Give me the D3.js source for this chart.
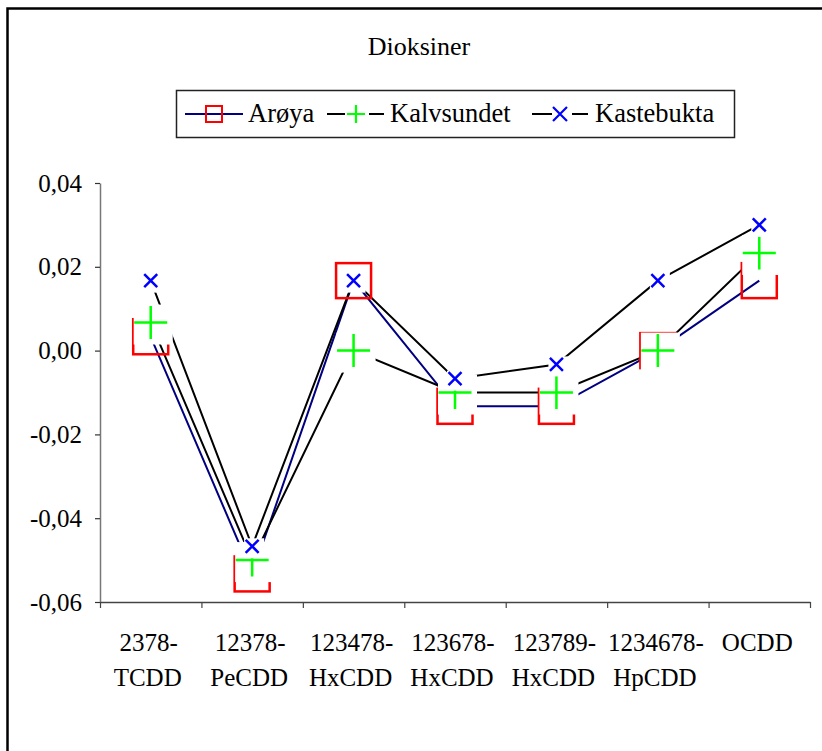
<!DOCTYPE html>
<html>
<head>
<meta charset="utf-8">
<script src="https://cdn.jsdelivr.net/npm/d3@7"></script>
<style>
  body { margin: 0; background: #fff; }
  svg { display: block; }
</style>
</head>
<body>
<div id="chart"></div>
<script>
// data
const categories = ["2378-TCDD", "12378-PeCDD", "123478-HxCDD", "123678-HxCDD", "123789-HxCDD", "1234678-HpCDD", "OCDD"];
const labelTop = ["2378-", "12378-", "123478-", "123678-", "123789-", "1234678-", "OCDD"];
const labelBottom = ["TCDD", "PeCDD", "HxCDD", "HxCDD", "HxCDD", "HpCDD", ""];
const aroya = [0.0033, -0.0533, 0.0167, -0.0133, -0.0133, 0.0, 0.0167];
const kalvsundet = [0.0067, -0.05, 0.0, -0.01, -0.01, 0.0, 0.0233];
const kastebukta = [0.0167, -0.0467, 0.0167, -0.0067, -0.0033, 0.0167, 0.03];
const seriesNames = ["Arøya", "Kalvsundet", "Kastebukta"];
const yTicks = [-0.06, -0.04, -0.02, 0, 0.02, 0.04];

function createLineChart() {
    let w = 822;
    let h = 751;
    let plot = {left: 100, right: 810, top: 183, bottom: 602};
    const font = "'Liberation Serif', 'Times New Roman', serif";

    const svg = d3.select("#chart")
                .append("svg")
                .attr("width", w)
                .attr("height", h);

    svg.append("rect")
        .attr("width", w)
        .attr("height", h)
        .attr("fill", "white");

    // outer frame (runs off the right and bottom edge)
    svg.append("rect")
        .attr("x", 7.5)
        .attr("y", 8.5)
        .attr("width", w + 20)
        .attr("height", h + 20)
        .attr("fill", "none")
        .attr("stroke", "black")
        .attr("stroke-width", 2.5);

    let xBand = d3.scaleBand()
                    .domain(categories)
                    .range([plot.left, plot.right]);
    let xEdge = d3.scaleLinear()
                    .domain([0, categories.length])
                    .range([plot.left, plot.right]);
    let yScale = d3.scaleLinear()
                    .domain([-0.06, 0.04])
                    .range([plot.bottom, plot.top]);
    let cx = (i) => xBand(categories[i]) + xBand.bandwidth() / 2;

    const locale = d3.formatLocale({decimal: ",", thousands: ".", grouping: [3], currency: ["", ""], minus: "-"});
    const fmt = locale.format(".2f");

    // y axis
    const yAxis = svg.append("g")
        .attr("transform", `translate(${plot.left},0)`)
        .call(d3.axisLeft(yScale).tickValues(yTicks).tickFormat(fmt).tickSize(5).tickSizeOuter(0).tickPadding(13));
    yAxis.select(".domain").attr("stroke", "#777").attr("stroke-width", 1.5);
    yAxis.selectAll(".tick line").attr("stroke", "#333").attr("stroke-width", 1.2);
    yAxis.selectAll("text")
        .attr("fill", "black")
        .attr("font-family", font)
        .attr("font-size", "25px");

    // x axis, ticks between categories
    const xAxis = svg.append("g")
        .attr("transform", `translate(0,${plot.bottom})`)
        .call(d3.axisBottom(xEdge).tickValues(d3.range(categories.length + 1)).tickFormat("").tickSize(6).tickSizeOuter(0));
    xAxis.select(".domain").attr("stroke", "#444").attr("stroke-width", 1.5);
    xAxis.selectAll(".tick line").attr("stroke", "#444").attr("stroke-width", 1.2);

    // x labels in two lines
    const xl = svg.append("g")
        .attr("font-family", font)
        .attr("font-size", "25px")
        .attr("text-anchor", "middle")
        .attr("fill", "black");
    xl.selectAll("text.top")
        .data(labelTop)
        .enter()
        .append("text")
        .attr("x", (d, i) => cx(i) - 2)
        .attr("y", 651)
        .text(d => d);
    xl.selectAll("text.bottom")
        .data(labelBottom)
        .enter()
        .append("text")
        .attr("x", (d, i) => cx(i) - 3)
        .attr("y", 686)
        .text(d => d);

    // lines first, markers on top
    let line = d3.line()
                .x((d, i) => cx(i))
                .y(d => yScale(d));
    [[aroya, "#000080"], [kalvsundet, "black"], [kastebukta, "black"]].forEach(([vals, col]) => {
        svg.append("path")
            .datum(vals)
            .attr("d", line)
            .attr("fill", "none")
            .attr("stroke", col)
            .attr("stroke-width", 2);
    });

    let sq = 35;
    svg.selectAll("rect.aroya")
        .data(aroya)
        .enter()
        .append("rect")
        .attr("x", (d, i) => cx(i) - sq / 2)
        .attr("y", d => yScale(d) - sq / 2)
        .attr("width", sq)
        .attr("height", sq)
        .attr("fill", "none")
        .attr("stroke", "red")
        .attr("stroke-width", 2.5);

    // plus marker with its white background box
    const plus = svg.selectAll("g.kalv")
        .data(kalvsundet)
        .enter()
        .append("g")
        .attr("transform", (d, i) => `translate(${cx(i)},${yScale(d)})`);
    plus.append("rect")
        .attr("x", -17).attr("y", -18)
        .attr("width", 39).attr("height", 40)
        .attr("fill", "white");
    plus.append("path")
        .attr("d", "M-16.5,0H16.5M0,-16.5V16.5")
        .attr("stroke", "#00FF00")
        .attr("stroke-width", 2.5);

    const cross = svg.selectAll("g.kaste")
        .data(kastebukta)
        .enter()
        .append("g")
        .attr("transform", (d, i) => `translate(${cx(i)},${yScale(d)})`);
    cross.append("rect")
        .attr("x", -8).attr("y", -8)
        .attr("width", 20).attr("height", 20)
        .attr("fill", "white");
    cross.append("path")
        .attr("d", "M-6.5,-6.5L6.5,6.5M-6.5,6.5L6.5,-6.5")
        .attr("stroke", "#0000FF")
        .attr("stroke-width", 2.5);

    // title
    svg.append("text")
        .attr("x", 419)
        .attr("y", 55)
        .attr("text-anchor", "middle")
        .attr("font-family", font)
        .attr("font-size", "26px")
        .text("Dioksiner");

    // legend
    svg.append("rect")
        .attr("x", 176.5)
        .attr("y", 90.5)
        .attr("width", 558)
        .attr("height", 47)
        .attr("fill", "none")
        .attr("stroke", "#222")
        .attr("stroke-width", 1.5);
    let ly = 114;
    svg.append("line")
        .attr("x1", 185).attr("x2", 243).attr("y1", ly).attr("y2", ly)
        .attr("stroke", "#000080").attr("stroke-width", 2);
    svg.append("rect")
        .attr("x", 206).attr("y", ly - 8).attr("width", 16).attr("height", 16)
        .attr("fill", "none").attr("stroke", "red").attr("stroke-width", 2);

    svg.append("line")
        .attr("x1", 327).attr("x2", 384).attr("y1", ly).attr("y2", ly)
        .attr("stroke", "black").attr("stroke-width", 2);
    svg.append("rect")
        .attr("x", 345).attr("y", ly - 11).attr("width", 24).attr("height", 24)
        .attr("fill", "white");
    svg.append("path")
        .attr("d", `M347,${ly}H365M356,${ly - 9}V${ly + 9}`)
        .attr("stroke", "#00FF00").attr("stroke-width", 2.2);

    svg.append("line")
        .attr("x1", 532).attr("x2", 588).attr("y1", ly).attr("y2", ly)
        .attr("stroke", "black").attr("stroke-width", 2);
    svg.append("rect")
        .attr("x", 552).attr("y", ly - 8).attr("width", 20).attr("height", 20)
        .attr("fill", "white");
    svg.append("path")
        .attr("d", `M553,${ly - 7}L567,${ly + 7}M553,${ly + 7}L567,${ly - 7}`)
        .attr("stroke", "#0000FF").attr("stroke-width", 2.2);

    svg.selectAll("text.legend")
        .data(seriesNames)
        .enter()
        .append("text")
        .attr("x", (d, i) => [248, 390, 595][i])
        .attr("y", 122)
        .attr("font-family", font)
        .attr("font-size", "26.5px")
        .text(d => d);
}

createLineChart();
</script>
</body>
</html>
